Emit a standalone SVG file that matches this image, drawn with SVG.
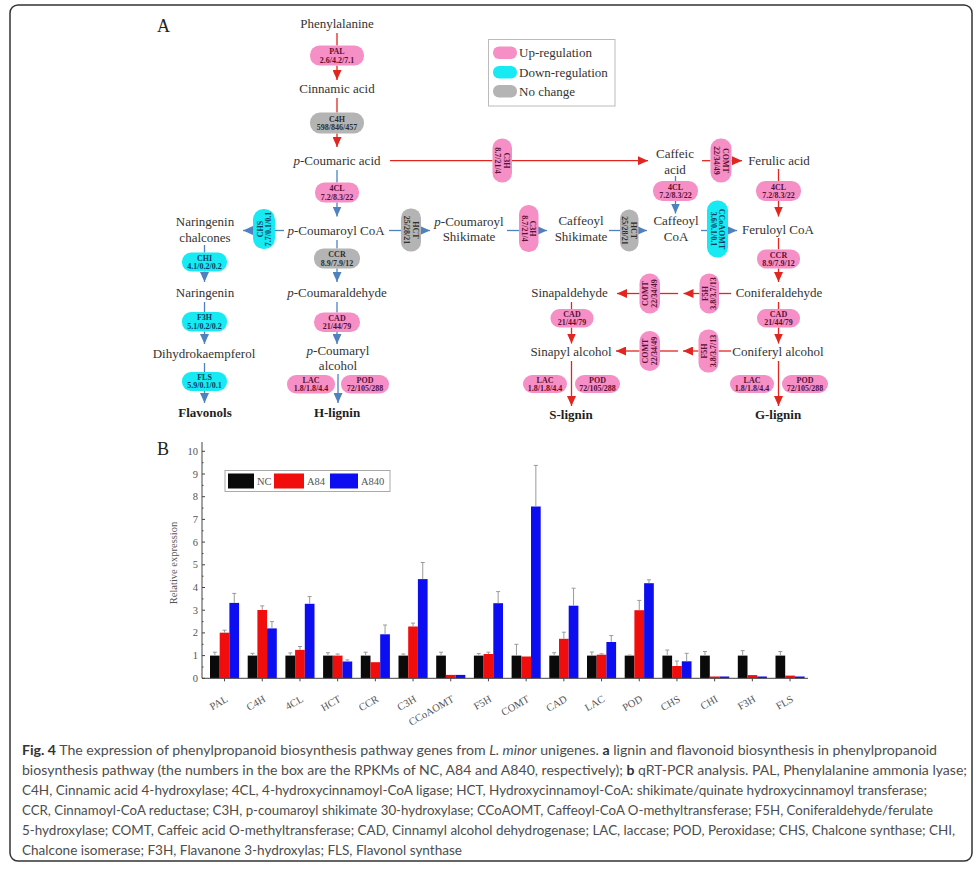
<svg xmlns="http://www.w3.org/2000/svg" width="980" height="870" viewBox="0 0 980 870">
<defs>
<style>
.t{font-family:"Liberation Serif","Times New Roman",serif;font-size:13px;fill:#333;text-anchor:middle}
.bd{font-weight:bold;fill:#1e1e1e}
.i{font-style:italic}
.pl{font-family:"Liberation Serif","Times New Roman",serif;font-size:8px;font-weight:bold;text-anchor:middle}
.up rect{fill:#f58fc5}
.up text{fill:#5a1034}
.dn rect{fill:#17eaf2}
.dn text{fill:#0b3b5e}
.nc rect{fill:#b4b4b4}
.nc text{fill:#2e2e2e}
.r{stroke:#e0261f;stroke-width:1.3;fill:none}
.ra{stroke:#e0261f;stroke-width:1.3;fill:none;marker-end:url(#ar)}
.b{stroke:#4f81bd;stroke-width:1.3;fill:none}
.ba{stroke:#4f81bd;stroke-width:1.3;fill:none;marker-end:url(#ab)}
.ax{font-family:"Liberation Serif","Times New Roman",serif;font-size:10.5px;fill:#555}
.lg{font-family:"Liberation Serif","Times New Roman",serif;font-size:13px;fill:#333}
.cap{font-family:Lato,"Open Sans",sans-serif;font-size:13.2px;fill:#4d4d4d}
.err{stroke:#9a9a9a;stroke-width:1;fill:none}
</style>
<marker id="ar" markerUnits="userSpaceOnUse" markerWidth="10" markerHeight="9" refX="10" refY="4.5" orient="auto"><path d="M0,0 L10,4.5 L0,9 Z" fill="#e0261f"/></marker>
<marker id="ab" markerUnits="userSpaceOnUse" markerWidth="10" markerHeight="9" refX="10" refY="4.5" orient="auto"><path d="M0,0 L10,4.5 L0,9 Z" fill="#4f81bd"/></marker>
</defs>
<rect width="980" height="870" fill="#fff"/>
<rect x="10" y="5" width="962" height="856" rx="8" fill="none" stroke="#333" stroke-width="1.5"/>

<text x="157" y="32" font-family="Liberation Serif,serif" font-size="18" fill="#222">A</text>
<text x="157" y="455" font-family="Liberation Serif,serif" font-size="18" fill="#222">B</text>

<!-- legend -->
<g id="legend">
<rect x="488.5" y="39.5" width="126.5" height="66.5" fill="#fff" stroke="#bbb" stroke-width="1"/>
<rect x="493" y="46.5" width="24" height="12.5" rx="6" fill="#f58fc5"/>
<rect x="493" y="66" width="24" height="12.5" rx="6" fill="#17eaf2"/>
<rect x="493" y="85" width="24" height="12.5" rx="6" fill="#b4b4b4"/>
<text class="lg" x="519" y="57">Up-regulation</text>
<text class="lg" x="519" y="76.5">Down-regulation</text>
<text class="lg" x="519" y="95.5">No change</text>
</g>

<g id="connectors">
<path class="r" d="M337,33V45.5"/>
<path class="ra" d="M337,65.5V80"/>
<path class="r" d="M337,98V112.5"/>
<path class="ra" d="M337,133.5V147"/>
<path class="r" d="M390,160.7H492.5"/>
<path class="ra" d="M512,160.7H648"/>
<path class="r" d="M702,160.7H710.5"/>
<path class="ra" d="M731.5,160.7H742"/>
<path class="r" d="M778.5,169V181"/>
<path class="ra" d="M778.5,201V216.5"/>
<path class="r" d="M778.5,238V249.5"/>
<path class="ra" d="M778.5,268.5V282"/>
<path class="r" d="M778.5,302V309"/>
<path class="ra" d="M778.5,327.5V343.5"/>
<path class="ra" d="M778.5,361V406"/>
<path class="r" d="M731,293.5H719"/>
<path class="ra" d="M699.5,293.5H683.5"/>
<path class="r" d="M678,293.5H660"/>
<path class="ra" d="M639.5,293.5H617"/>
<path class="r" d="M731,351H718.5"/>
<path class="ra" d="M698.5,351H683"/>
<path class="r" d="M678,351H660"/>
<path class="ra" d="M639.5,351H616"/>
<path class="r" d="M571.5,302V309"/>
<path class="ra" d="M571.5,327.5V343.5"/>
<path class="ra" d="M571.5,361V406"/>
<path class="b" d="M337,170V182.5"/>
<path class="ba" d="M337,202.5V216.5"/>
<path class="b" d="M284,230.5H275"/>
<path class="ba" d="M253,230.5H243"/>
<path class="b" d="M389,230.5H401"/>
<path class="ba" d="M421,230.5H430"/>
<path class="b" d="M337,240V248.5"/>
<path class="ba" d="M337,268.5V282"/>
<path class="b" d="M337,302V312.5"/>
<path class="ba" d="M337,332V344"/>
<path class="ba" d="M338,374V403"/>
<path class="b" d="M204.5,245V252.5"/>
<path class="ba" d="M204.5,271.5V282"/>
<path class="b" d="M204.5,302V312"/>
<path class="ba" d="M204.5,331.5V344"/>
<path class="b" d="M204.5,363V372"/>
<path class="ba" d="M204.5,391V403"/>
<path class="b" d="M507,230.5H519"/>
<path class="ba" d="M538.5,230.5H547"/>
<path class="b" d="M609,230.5H620"/>
<path class="ba" d="M638.5,230.5H647"/>
<path class="b" d="M701,230.5H707"/>
<path class="ba" d="M728,230.5H737"/>
<path class="b" d="M675.5,176V181"/>
<path class="ba" d="M675.5,201V213.5"/>
</g>

<!-- compounds -->
<g id="phenylalanine"><text class="t" x="337" y="28">Phenylalanine</text></g>
<g id="cinnamic"><text class="t" x="337" y="93">Cinnamic acid</text></g>
<g id="pcoumaric"><text class="t" x="337" y="165"><tspan class="i">p</tspan>-Coumaric acid</text></g>
<g id="pcoumaroylcoa"><text class="t" x="336" y="235"><tspan class="i">p</tspan>-Coumaroyl CoA</text></g>
<g id="pcoumaraldehyde"><text class="t" x="337" y="297"><tspan class="i">p</tspan>-Coumaraldehyde</text></g>
<g id="pcoumarylalcohol"><text class="t" x="338" y="355"><tspan class="i">p</tspan>-Coumaryl</text><text class="t" x="338" y="370">alcohol</text></g>
<g id="hlignin"><text class="t bd" x="337" y="417">H-lignin</text></g>
<g id="naringeninchalcones"><text class="t" x="205" y="226">Naringenin</text><text class="t" x="205" y="242">chalcones</text></g>
<g id="naringenin"><text class="t" x="205" y="297">Naringenin</text></g>
<g id="dihydrokaempferol"><text class="t" x="204" y="358">Dihydrokaempferol</text></g>
<g id="flavonols"><text class="t bd" x="205" y="417">Flavonols</text></g>
<g id="pcoumaroylshikimate"><text class="t" x="469" y="226"><tspan class="i">p</tspan>-Coumaroyl</text><text class="t" x="469" y="241">Shikimate</text></g>
<g id="caffeoylshikimate"><text class="t" x="581" y="225">Caffeoyl</text><text class="t" x="581" y="241">Shikimate</text></g>
<g id="caffeoylcoa"><text class="t" x="676" y="225">Caffeoyl</text><text class="t" x="676" y="241">CoA</text></g>
<g id="caffeic"><text class="t" x="675" y="157.5">Caffeic</text><text class="t" x="675" y="173.5">acid</text></g>
<g id="ferulic"><text class="t" x="779" y="165">Ferulic acid</text></g>
<g id="feruloylcoa"><text class="t" x="778" y="234">Feruloyl CoA</text></g>
<g id="coniferaldehyde"><text class="t" x="779" y="297">Coniferaldehyde</text></g>
<g id="coniferylalcohol"><text class="t" x="778" y="356">Coniferyl alcohol</text></g>
<g id="glignin"><text class="t bd" x="778" y="419">G-lignin</text></g>
<g id="sinapaldehyde"><text class="t" x="569.5" y="297">Sinapaldehyde</text></g>
<g id="sinapylalcohol"><text class="t" x="571" y="356">Sinapyl alcohol</text></g>
<g id="slignin"><text class="t bd" x="571" y="419">S-lignin</text></g>

<!-- enzymes horizontal -->
<g id="PAL" class="up"><rect x="310" y="45.5" width="54" height="20" rx="9.5"/><text class="pl" x="337" y="54">PAL</text><text class="pl" x="337" y="62.5">2.6/4.2/7.1</text></g>
<g id="C4H" class="nc"><rect x="310" y="112.5" width="54" height="21" rx="10"/><text class="pl" x="337" y="121.5">C4H</text><text class="pl" x="337" y="130">598/846/457</text></g>
<g id="4CL_1" class="up"><rect x="315" y="182.5" width="44" height="20" rx="9.5"/><text class="pl" x="337" y="191">4CL</text><text class="pl" x="337" y="199.5">7.2/8.3/22</text></g>
<g id="CCR_1" class="nc"><rect x="314" y="248.5" width="46" height="20" rx="9.5"/><text class="pl" x="337" y="257">CCR</text><text class="pl" x="337" y="265.5">8.9/7.9/12</text></g>
<g id="CAD_1" class="up"><rect x="314" y="312.5" width="46" height="19.5" rx="9.5"/><text class="pl" x="337" y="320.8">CAD</text><text class="pl" x="337" y="329.2">21/44/79</text></g>
<g id="LAC_1" class="up"><rect x="287" y="375" width="48" height="18.5" rx="9"/><text class="pl" x="311" y="382.8">LAC</text><text class="pl" x="311" y="391">1.8/1.8/4.4</text></g>
<g id="POD_1" class="up"><rect x="341" y="375" width="48" height="18.5" rx="9"/><text class="pl" x="365" y="382.8">POD</text><text class="pl" x="365" y="391">72/105/288</text></g>
<g id="CHI" class="dn"><rect x="182" y="252.5" width="45" height="19" rx="9"/><text class="pl" x="204.5" y="260.5">CHI</text><text class="pl" x="204.5" y="268.8">4.1/0.2/0.2</text></g>
<g id="F3H" class="dn"><rect x="182" y="312" width="45" height="19.5" rx="9"/><text class="pl" x="204.5" y="320.3">F3H</text><text class="pl" x="204.5" y="328.7">5.1/0.2/0.2</text></g>
<g id="FLS" class="dn"><rect x="182" y="372" width="45" height="19" rx="9"/><text class="pl" x="204.5" y="380">FLS</text><text class="pl" x="204.5" y="388.4">5.9/0.1/0.1</text></g>
<g id="4CL_2" class="up"><rect x="653" y="181" width="45" height="20" rx="9.5"/><text class="pl" x="675.5" y="189.5">4CL</text><text class="pl" x="675.5" y="198">7.2/8.3/22</text></g>
<g id="4CL_3" class="up"><rect x="756" y="181" width="45" height="20" rx="9.5"/><text class="pl" x="778.5" y="189.5">4CL</text><text class="pl" x="778.5" y="198">7.2/8.3/22</text></g>
<g id="CCR_2" class="up"><rect x="757" y="249.5" width="43" height="19" rx="9"/><text class="pl" x="778.5" y="257.5">CCR</text><text class="pl" x="778.5" y="265.8">8.9/7.9/12</text></g>
<g id="CAD_2" class="up"><rect x="757" y="309" width="43" height="18.5" rx="9"/><text class="pl" x="778.5" y="316.8">CAD</text><text class="pl" x="778.5" y="325">21/44/79</text></g>
<g id="CAD_3" class="up"><rect x="550.5" y="309" width="43" height="18.5" rx="9"/><text class="pl" x="572" y="316.8">CAD</text><text class="pl" x="572" y="325">21/44/79</text></g>
<g id="LAC_2" class="up"><rect x="523" y="375" width="44" height="18" rx="9"/><text class="pl" x="545" y="382.5">LAC</text><text class="pl" x="545" y="390.7">1.8/1.8/4.4</text></g>
<g id="POD_2" class="up"><rect x="575" y="375" width="45" height="18" rx="9"/><text class="pl" x="597.5" y="382.5">POD</text><text class="pl" x="597.5" y="390.7">72/105/288</text></g>
<g id="LAC_3" class="up"><rect x="730" y="375" width="44" height="18" rx="9"/><text class="pl" x="752" y="382.5">LAC</text><text class="pl" x="752" y="390.7">1.8/1.8/4.4</text></g>
<g id="POD_3" class="up"><rect x="782" y="375" width="46" height="18" rx="9"/><text class="pl" x="805" y="382.5">POD</text><text class="pl" x="805" y="390.7">72/105/288</text></g>

<!-- enzymes vertical -->
<g id="C3H_1" class="up"><rect x="492.5" y="138.5" width="19.5" height="44" rx="9.5"/><g transform="translate(502.25,160.5) rotate(90)"><text class="pl" y="-1.5">C3H</text><text class="pl" y="7">8.7/21/4</text></g></g>
<g id="COMT_1" class="up"><rect x="710.5" y="138.5" width="21" height="44" rx="10"/><g transform="translate(721,160.5) rotate(90)"><text class="pl" y="-1.5">COMT</text><text class="pl" y="7">22/34/49</text></g></g>
<g id="CHS" class="dn"><rect x="253" y="209" width="22" height="40" rx="10.5"/><g transform="translate(264,229) rotate(-90)"><text class="pl" y="-1.5">CHS</text><text class="pl" y="7">7.7/0.1/0.1</text></g></g>
<g id="HCT_1" class="nc"><rect x="401" y="208.5" width="20" height="43" rx="9.5"/><g transform="translate(411,230) rotate(90)"><text class="pl" y="-1.5">HCT</text><text class="pl" y="7">25/28/21</text></g></g>
<g id="C3H_2" class="up"><rect x="519" y="205" width="19.5" height="47" rx="9.5"/><g transform="translate(528.75,228.5) rotate(90)"><text class="pl" y="-1.5">C3H</text><text class="pl" y="7">8.7/21/4</text></g></g>
<g id="HCT_2" class="nc"><rect x="620" y="209.5" width="18.5" height="42" rx="9"/><g transform="translate(629.25,230.5) rotate(90)"><text class="pl" y="-1.5">HCT</text><text class="pl" y="7">25/28/21</text></g></g>
<g id="CCoAOMT" class="dn"><rect x="707" y="200.5" width="21" height="57" rx="10"/><g transform="translate(717.5,229) rotate(90)"><text class="pl" y="-1.5">CCoAOMT</text><text class="pl" y="7">3.6/0.1/0.1</text></g></g>
<g id="F5H_1" class="up"><rect x="699.5" y="273.5" width="19.5" height="40" rx="9.5"/><g transform="translate(709.25,293.5) rotate(-90)"><text class="pl" y="-1.5">F5H</text><text class="pl" y="7">3.8/3.7/13</text></g></g>
<g id="COMT_2" class="up"><rect x="639.5" y="273.5" width="20.5" height="40" rx="10"/><g transform="translate(649.75,293.5) rotate(-90)"><text class="pl" y="-1.5">COMT</text><text class="pl" y="7">22/34/49</text></g></g>
<g id="F5H_2" class="up"><rect x="698.5" y="329.5" width="20" height="43" rx="9.5"/><g transform="translate(708.5,351) rotate(-90)"><text class="pl" y="-1.5">F5H</text><text class="pl" y="7">3.8/3.7/13</text></g></g>
<g id="COMT_3" class="up"><rect x="639.5" y="331" width="20.5" height="40" rx="10"/><g transform="translate(649.75,351) rotate(-90)"><text class="pl" y="-1.5">COMT</text><text class="pl" y="7">22/34/49</text></g></g>

<!-- chart -->
<g id="chart">
<g id="bars-nc" fill="#0a0a0a">
<rect x="210" y="655.6" width="9.7" height="22.7"/><rect x="247.7" y="655.6" width="9.7" height="22.7"/><rect x="285.4" y="655.6" width="9.7" height="22.7"/><rect x="323.1" y="655.6" width="9.7" height="22.7"/><rect x="360.8" y="655.6" width="9.7" height="22.7"/><rect x="398.5" y="655.6" width="9.7" height="22.7"/><rect x="436.2" y="655.6" width="9.7" height="22.7"/><rect x="473.9" y="655.6" width="9.7" height="22.7"/><rect x="511.6" y="655.6" width="9.7" height="22.7"/><rect x="549.3" y="655.6" width="9.7" height="22.7"/><rect x="587" y="655.6" width="9.7" height="22.7"/><rect x="624.7" y="655.6" width="9.7" height="22.7"/><rect x="662.4" y="655.6" width="9.7" height="22.7"/><rect x="700.1" y="655.6" width="9.7" height="22.7"/><rect x="737.8" y="655.6" width="9.7" height="22.7"/><rect x="775.5" y="655.6" width="9.7" height="22.7"/>
</g>
<g id="bars-a84" fill="#f20d0d">
<rect x="219.7" y="632.7" width="9.7" height="45.6"/><rect x="257.4" y="610" width="9.7" height="68.3"/><rect x="295.1" y="649.9" width="9.7" height="28.4"/><rect x="332.8" y="655.6" width="9.7" height="22.7"/><rect x="370.5" y="662.2" width="9.7" height="16.1"/><rect x="408.2" y="626.5" width="9.7" height="51.8"/><rect x="445.9" y="674.9" width="9.7" height="3.4"/><rect x="483.6" y="654" width="9.7" height="24.3"/><rect x="521.3" y="656.5" width="9.7" height="21.8"/><rect x="559" y="638.8" width="9.7" height="39.5"/><rect x="596.7" y="654.7" width="9.7" height="23.6"/><rect x="634.4" y="610.2" width="9.7" height="68.1"/><rect x="672.1" y="666" width="9.7" height="12.3"/><rect x="709.8" y="676.5" width="9.7" height="1.8"/><rect x="747.5" y="675.1" width="9.7" height="3.2"/><rect x="785.2" y="675.6" width="9.7" height="2.7"/>
</g>
<g id="bars-a840" fill="#0d0df2">
<rect x="229.4" y="602.9" width="9.7" height="75.4"/><rect x="267.1" y="628.4" width="9.7" height="49.9"/><rect x="304.8" y="603.8" width="9.7" height="74.5"/><rect x="342.5" y="661.5" width="9.7" height="16.8"/><rect x="380.2" y="634.3" width="9.7" height="44"/><rect x="417.9" y="579.1" width="9.7" height="99.2"/><rect x="455.6" y="674.9" width="9.7" height="3.4"/><rect x="493.3" y="603.2" width="9.7" height="75.1"/><rect x="531" y="506.5" width="9.7" height="171.8"/><rect x="568.7" y="605.7" width="9.7" height="72.6"/><rect x="606.4" y="642" width="9.7" height="36.3"/><rect x="644.1" y="583.2" width="9.7" height="95.1"/><rect x="681.8" y="661.3" width="9.7" height="17"/><rect x="719.5" y="676.5" width="9.7" height="1.8"/><rect x="757.2" y="676.5" width="9.7" height="1.8"/><rect x="794.9" y="676.5" width="9.7" height="1.8"/>
</g>
<path class="err" d="M214.85,655.6V652.2M212.85,652.2h4M224.55,632.7V630.2M222.55,630.2h4M234.25,602.9V593.4M232.25,593.4h4
M252.55,655.6V653.3M250.55,653.3h4M262.25,610V605.9M260.25,605.9h4M271.95,628.4V621.6M269.95,621.6h4
M290.25,655.6V652.9M288.25,652.9h4M299.95,649.9V646.5M297.95,646.5h4M309.65,603.8V596.6M307.65,596.6h4
M327.95,655.6V652.7M325.95,652.7h4M337.65,655.6V654M335.65,654h4M347.35,661.5V659.9M345.35,659.9h4
M365.65,655.6V652.2M363.65,652.2h4M385.05,634.3V625M383.05,625h4
M403.35,655.6V654M401.35,654h4M413.05,626.5V623.1M411.05,623.1h4M422.75,579.1V562.5M420.75,562.5h4
M441.05,655.6V652.2M439.05,652.2h4
M478.75,655.6V653.6M476.75,653.6h4M488.45,654V652.2M486.45,652.2h4M498.15,603.2V591.6M496.15,591.6h4
M516.45,655.6V644.3M514.45,644.3h4M535.85,506.5V465.4M533.85,465.4h4
M554.15,655.6V652.7M552.15,652.7h4M563.85,638.8V632.2M561.85,632.2h4M573.55,605.7V588.2M571.55,588.2h4
M591.85,655.6V652M589.85,652h4M601.55,654.7V653.8M599.55,653.8h4M611.25,642V635.6M609.25,635.6h4
M629.55,655.6V655.1M627.55,655.1h4M639.25,610.2V600.4M637.25,600.4h4M648.95,583.2V579.8M646.95,579.8h4
M667.25,655.6V650M665.25,650h4M676.95,666V661M674.95,661h4M686.65,661.3V653.3M684.65,653.3h4
M704.95,655.6V651.5M702.95,651.5h4M742.65,655.6V650.6M740.65,650.6h4M780.35,655.6V651.5M778.35,651.5h4"/>
<g id="axes" stroke="#444" stroke-width="1" fill="none">
<path d="M202,442V678.3H808"/>
<path d="M202,678.3h3M202,655.6h3M202,632.9h3M202,610.2h3M202,587.5h3M202,564.8h3M202,542.1h3M202,519.4h3M202,496.7h3M202,474h3M202,451.3h3M202,667h1.5M202,644.3h1.5M202,621.6h1.5M202,598.9h1.5M202,576.2h1.5M202,553.5h1.5M202,530.8h1.5M202,508.1h1.5M202,485.4h1.5M202,462.7h1.5"/>
<path d="M224.55,678.3v3M262.25,678.3v3M299.95,678.3v3M337.65,678.3v3M375.35,678.3v3M413.05,678.3v3M450.75,678.3v3M488.45,678.3v3M526.15,678.3v3M563.85,678.3v3M601.55,678.3v3M639.25,678.3v3M676.95,678.3v3M714.65,678.3v3M752.35,678.3v3M790.05,678.3v3"/>
</g>
<g id="yticks" class="ax" text-anchor="end">
<text x="198" y="681.8">0</text><text x="198" y="659.1">1</text><text x="198" y="636.4">2</text><text x="198" y="613.7">3</text><text x="198" y="591">4</text><text x="198" y="568.3">5</text><text x="198" y="545.6">6</text><text x="198" y="522.9">7</text><text x="198" y="500.2">8</text><text x="198" y="477.5">9</text><text x="198" y="454.8">10</text>
</g>
<text class="ax" transform="translate(177,563) rotate(-90)" text-anchor="middle" font-size="11.5" fill="#444">Relative expression</text>
<g id="xlabels" class="ax" text-anchor="end" fill="#444">
<text transform="translate(228.55,701) rotate(-30)">PAL</text>
<text transform="translate(266.25,701) rotate(-30)">C4H</text>
<text transform="translate(303.95,701) rotate(-30)">4CL</text>
<text transform="translate(341.65,701) rotate(-30)">HCT</text>
<text transform="translate(379.35,701) rotate(-30)">CCR</text>
<text transform="translate(417.05,701) rotate(-30)">C3H</text>
<text transform="translate(454.75,701) rotate(-30)">CCoAOMT</text>
<text transform="translate(492.45,701) rotate(-30)">F5H</text>
<text transform="translate(530.15,701) rotate(-30)">COMT</text>
<text transform="translate(567.85,701) rotate(-30)">CAD</text>
<text transform="translate(605.55,701) rotate(-30)">LAC</text>
<text transform="translate(643.25,701) rotate(-30)">POD</text>
<text transform="translate(680.95,701) rotate(-30)">CHS</text>
<text transform="translate(718.65,701) rotate(-30)">CHI</text>
<text transform="translate(756.35,701) rotate(-30)">F3H</text>
<text transform="translate(794.05,701) rotate(-30)">FLS</text>
</g>
<g id="chart-legend">
<rect x="225" y="470.5" width="165" height="21" fill="#fff" stroke="#aaa" stroke-width="1"/>
<rect x="228" y="473.5" width="26" height="15" fill="#0a0a0a"/>
<rect x="274" y="473.5" width="30" height="15" fill="#f20d0d"/>
<rect x="330" y="473.5" width="28" height="15" fill="#0d0df2"/>
<text class="ax" x="257" y="485" fill="#333">NC</text>
<text class="ax" x="307" y="485" fill="#333">A84</text>
<text class="ax" x="361" y="485" fill="#333">A840</text>
</g>
</g>

<!-- caption -->
<g id="caption" class="cap">
<text x="22" y="755" textLength="915" lengthAdjust="spacingAndGlyphs"><tspan font-weight="bold" fill="#333">Fig. 4</tspan> The expression of phenylpropanoid biosynthesis pathway genes from <tspan font-style="italic">L. minor</tspan> unigenes. <tspan font-weight="bold" fill="#333">a</tspan> lignin and flavonoid biosynthesis in phenylpropanoid</text>
<text x="22" y="775" textLength="945" lengthAdjust="spacingAndGlyphs">biosynthesis pathway (the numbers in the box are the RPKMs of NC, A84 and A840, respectively); <tspan font-weight="bold" fill="#333">b</tspan> qRT-PCR analysis. PAL, Phenylalanine ammonia lyase;</text>
<text x="22" y="795" textLength="905" lengthAdjust="spacingAndGlyphs">C4H, Cinnamic acid 4-hydroxylase; 4CL, 4-hydroxycinnamoyl-CoA ligase; HCT, Hydroxycinnamoyl-CoA: shikimate/quinate hydroxycinnamoyl transferase;</text>
<text x="22" y="815" textLength="911" lengthAdjust="spacingAndGlyphs">CCR, Cinnamoyl-CoA reductase; C3H, p-coumaroyl shikimate 30-hydroxylase; CCoAOMT, Caffeoyl-CoA O-methyltransferase; F5H, Coniferaldehyde/ferulate</text>
<text x="22" y="835" textLength="933" lengthAdjust="spacingAndGlyphs">5-hydroxylase; COMT, Caffeic acid O-methyltransferase; CAD, Cinnamyl alcohol dehydrogenase; LAC, laccase; POD, Peroxidase; CHS, Chalcone synthase; CHI,</text>
<text x="22" y="855" textLength="440" lengthAdjust="spacingAndGlyphs">Chalcone isomerase; F3H, Flavanone 3-hydroxylas; FLS, Flavonol synthase</text>
</g>
</svg>
